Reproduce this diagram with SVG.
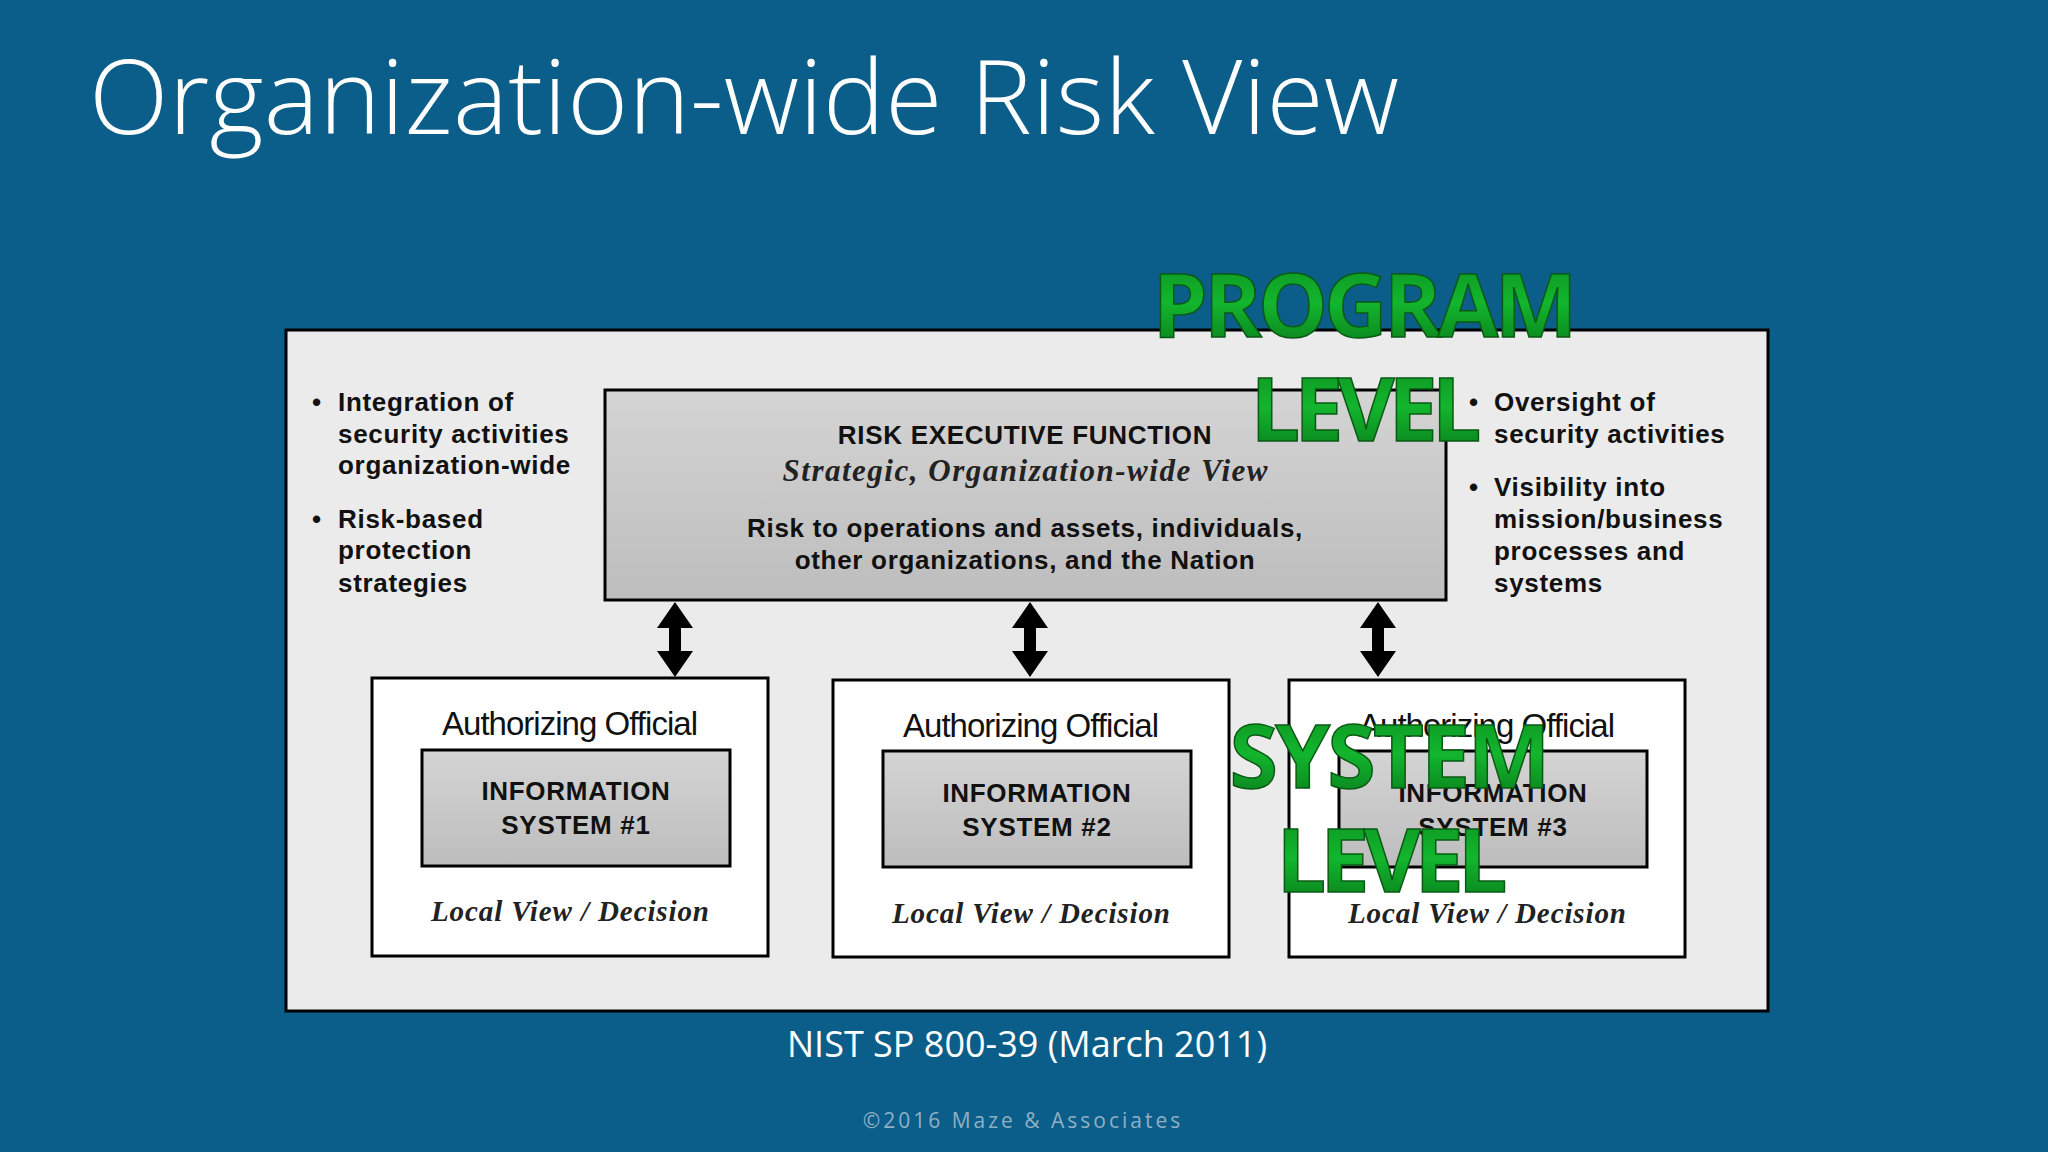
<svg xmlns="http://www.w3.org/2000/svg" width="2048" height="1152" viewBox="0 0 2048 1152">
<defs>
<linearGradient id="gb" x1="0" y1="0" x2="0" y2="1"><stop offset="0" stop-color="#d4d4d4"/><stop offset="1" stop-color="#bdbdbd"/></linearGradient>
<linearGradient id="gg" x1="0" y1="0" x2="0" y2="1"><stop offset="0" stop-color="#0a8a1e"/><stop offset="0.5" stop-color="#13b52e"/><stop offset="1" stop-color="#067016"/></linearGradient>
<path id="arr" d="M0,0 L-18,26 L-6,26 L-6,49 L-18,49 L0,75 L18,49 L6,49 L6,26 L18,26 z" fill="#000"/>
</defs>
<style>
.b{font-family:"Liberation Sans",Arial,sans-serif;font-weight:bold;font-size:26px;fill:#111;letter-spacing:0.7px}
.it{font-family:"Liberation Serif",serif;font-style:italic;font-weight:bold;fill:#222}
.ao{font-family:"Liberation Sans",Arial,sans-serif;font-size:33px;fill:#111}
.box{fill:#fff;stroke:#000;stroke-width:3}
.gr{fill:url(#gb);stroke:#000;stroke-width:3}
.green{font-family:"Open Sans","Liberation Sans",sans-serif;font-weight:bold;font-size:88px;fill:url(#gg);stroke:#0a5a14;stroke-width:1.5}
</style>
<rect width="2048" height="1152" fill="#0b5e89"/>
<text x="89" y="134" font-family="'Open Sans','Liberation Sans',sans-serif" font-weight="300" font-size="104" fill="#fff" textLength="1310">Organization-wide Risk View</text>
<rect x="286" y="330" width="1482" height="681" fill="#ebebeb" stroke="#000" stroke-width="3"/>
<g id="connectors">
<use href="#arr" x="675" y="602"/>
<use href="#arr" x="1030" y="602"/>
<use href="#arr" x="1378" y="602"/>
</g>
<g id="left-notes">
<text class="b" x="312" y="411">•</text>
<text class="b" x="338" y="411">Integration of</text>
<text class="b" x="338" y="443">security activities</text>
<text class="b" x="338" y="474">organization-wide</text>
<text class="b" x="312" y="528">•</text>
<text class="b" x="338" y="528">Risk-based</text>
<text class="b" x="338" y="559">protection</text>
<text class="b" x="338" y="592">strategies</text>
</g>
<g id="right-notes">
<text class="b" x="1469" y="411">•</text>
<text class="b" x="1494" y="411">Oversight of</text>
<text class="b" x="1494" y="443">security activities</text>
<text class="b" x="1469" y="496">•</text>
<text class="b" x="1494" y="496">Visibility into</text>
<text class="b" x="1494" y="528">mission/business</text>
<text class="b" x="1494" y="560">processes and</text>
<text class="b" x="1494" y="592">systems</text>
</g>
<g id="risk-exec">
<rect class="gr" x="605" y="390" width="841" height="210"/>
<text class="b" x="1025" y="444" text-anchor="middle" font-size="30">RISK EXECUTIVE FUNCTION</text>
<text class="it" x="1025" y="481" text-anchor="middle" font-size="31" textLength="485">Strategic, Organization-wide View</text>
<text class="b" x="1025" y="537" text-anchor="middle">Risk to operations and assets, individuals,</text>
<text class="b" x="1025" y="569" text-anchor="middle">other organizations, and the Nation</text>
</g>
<g id="sys1">
<rect class="box" x="372" y="678" width="396" height="278"/>
<text class="ao" x="570" y="735" text-anchor="middle" textLength="256">Authorizing Official</text>
<rect class="gr" x="422" y="750" width="308" height="116"/>
<text class="b" x="576" y="800" text-anchor="middle">INFORMATION</text>
<text class="b" x="576" y="834" text-anchor="middle">SYSTEM #1</text>
<text class="it" x="570" y="921" text-anchor="middle" font-size="29" textLength="278">Local View / Decision</text>
</g>
<g id="sys2">
<rect class="box" x="833" y="680" width="396" height="277"/>
<text class="ao" x="1031" y="737" text-anchor="middle" textLength="256">Authorizing Official</text>
<rect class="gr" x="883" y="751" width="308" height="116"/>
<text class="b" x="1037" y="802" text-anchor="middle">INFORMATION</text>
<text class="b" x="1037" y="836" text-anchor="middle">SYSTEM #2</text>
<text class="it" x="1031" y="923" text-anchor="middle" font-size="29" textLength="278">Local View / Decision</text>
</g>
<g id="sys3">
<rect class="box" x="1289" y="680" width="396" height="277"/>
<text class="ao" x="1487" y="737" text-anchor="middle" textLength="256">Authorizing Official</text>
<rect class="gr" x="1339" y="751" width="308" height="116"/>
<text class="b" x="1493" y="802" text-anchor="middle">INFORMATION</text>
<text class="b" x="1493" y="836" text-anchor="middle">SYSTEM #3</text>
<text class="it" x="1487" y="923" text-anchor="middle" font-size="29" textLength="278">Local View / Decision</text>
</g>
<g id="program-level">
<text class="green" x="1365" y="337" text-anchor="middle" textLength="425">PROGRAM</text>
<text class="green" x="1366" y="441" text-anchor="middle" textLength="231">LEVEL</text>
</g>
<g id="system-level">
<text class="green" x="1390" y="788" text-anchor="middle" textLength="321">SYSTEM</text>
<text class="green" x="1392" y="892" text-anchor="middle" textLength="231">LEVEL</text>
</g>
<text x="1027" y="1057" text-anchor="middle" font-family="'Open Sans','Liberation Sans',sans-serif" font-size="36" fill="#fff">NIST SP 800-39 (March 2011)</text>
<text x="1023" y="1128" text-anchor="middle" font-family="'Open Sans','Liberation Sans',sans-serif" font-size="21" letter-spacing="3" fill="#8fb0c4">©2016 Maze &amp; Associates</text>
</svg>
